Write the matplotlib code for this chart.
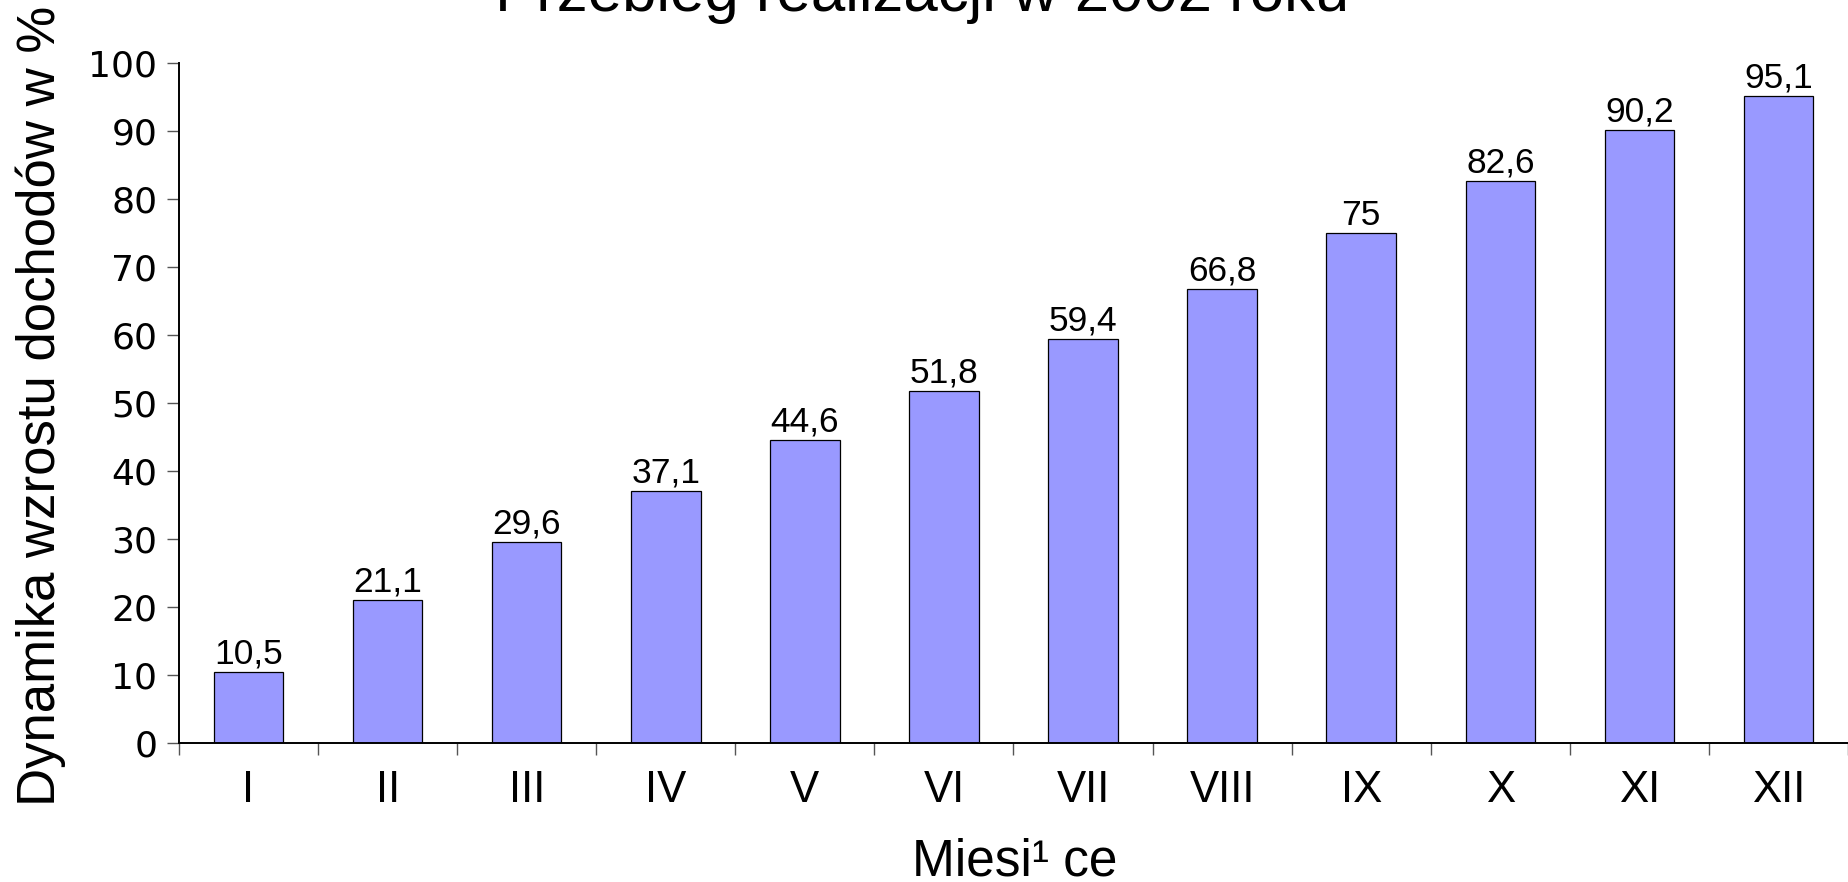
import matplotlib
matplotlib.use("Agg")
import matplotlib.pyplot as plt
import numpy as np

months = ["I", "II", "III", "IV", "V", "VI", "VII", "VIII", "IX", "X", "XI", "XII"]
values = [10.5, 21.1, 29.6, 37.1, 44.6, 51.8, 59.4, 66.8, 75.0, 82.6, 90.2, 95.1]
yticks = [0, 10, 20, 30, 40, 50, 60, 70, 80, 90, 100]
title = "Przebieg realizacji w 2002 roku"
xlabel = "Miesi\u00b9 ce"
ylabel = "Dynamika wzrostu dochodów w %"

plt.rcParams['font.family'] = ['Liberation Sans', 'DejaVu Sans']

W, H = 1848, 882
fig = plt.figure(figsize=(W / 100, H / 100), dpi=100)
ax = fig.add_axes([179 / W, 1 - 743 / H, 1 - 179 / W, (743 - 63) / H])

x = np.arange(len(months))
bars = ax.bar(x, values, width=0.5, color="#9999FF", edgecolor="black", linewidth=0.9, zorder=2)

for xi, v in zip(x, values):
    s = ("%g" % v).replace(".", ",")
    ax.annotate(s, (xi, v), xytext=(0, 6), textcoords="offset points",
                ha="center", va="baseline", fontsize=25.5)

ax.set_xlim(-0.5, len(months) - 0.5)
ax.set_ylim(0, 100)
ax.set_yticks(yticks)
ax.set_yticklabels([str(t) for t in yticks], family=['DejaVu Sans'], fontsize=26)
ax.set_xticks(x)
ax.set_xticklabels(months, fontsize=31.5)
ax.set_xticks(np.arange(len(months) + 1) - 0.5, minor=True)
ax.tick_params(axis="x", which="major", length=0, pad=19.5)
ax.tick_params(axis="x", which="minor", length=8.6, width=1, color="#555555")
ax.tick_params(axis="y", which="major", length=8.6, width=1, color="#555555", pad=7)

for side in ("top", "right"):
    ax.spines[side].set_visible(False)
for side in ("left", "bottom"):
    ax.spines[side].set_linewidth(1.4)
    ax.spines[side].set_color("black")
    ax.spines[side].set_zorder(3)

fig.text(922 / W, 1 - 11 / H, title, ha="center", va="baseline", fontsize=44.5)
fig.text(1015 / W, 1 - 875 / H, xlabel, ha="center", va="baseline", fontsize=37)
fig.text(16 / W, 1 - 406 / H, ylabel, ha="left", va="center", rotation=90, fontsize=38)

fig.savefig("out.png", dpi=100)
